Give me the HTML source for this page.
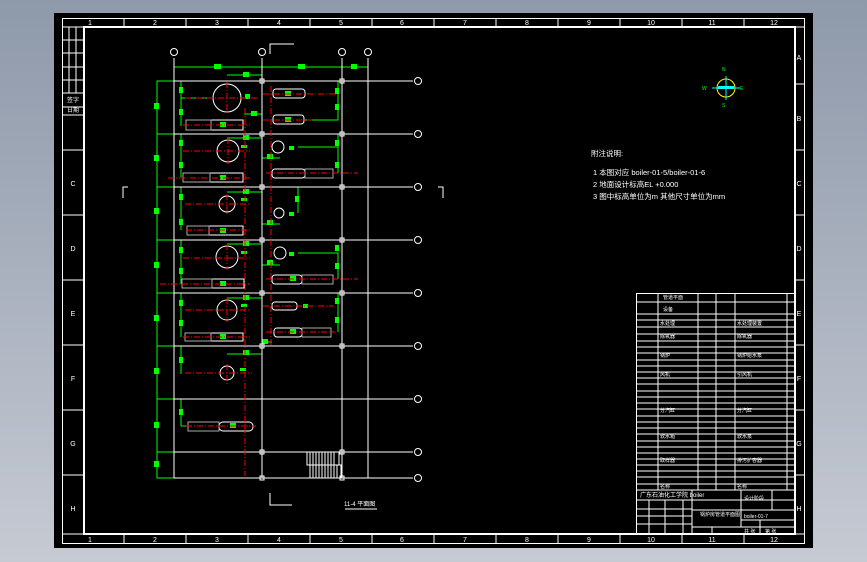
<!DOCTYPE html>
<html><head><meta charset="utf-8"><style>
html,body{margin:0;padding:0;width:867px;height:562px;overflow:hidden;background:linear-gradient(#8e99aa,#c6cad3);}
svg{display:block}
</style></head><body>
<svg width="867" height="562" viewBox="0 0 867 562" xmlns="http://www.w3.org/2000/svg" font-family="Liberation Sans, Noto Sans CJK SC, sans-serif">
<rect x="54" y="13" width="759" height="535" fill="#000"/>
<!-- frames -->
<g fill="none" stroke="#fff">
<rect x="62.5" y="18.5" width="742" height="525" stroke-width="1"/>
<rect x="84" y="27" width="711" height="507" stroke-width="2"/>
<line x1="62" y1="27" x2="805" y2="27"/>
<line x1="62" y1="534" x2="805" y2="534"/>
<g stroke-width="1">
<line x1="124" y1="18" x2="124" y2="27"/><line x1="186" y1="18" x2="186" y2="27"/><line x1="248" y1="18" x2="248" y2="27"/><line x1="310" y1="18" x2="310" y2="27"/><line x1="372" y1="18" x2="372" y2="27"/><line x1="434" y1="18" x2="434" y2="27"/><line x1="496" y1="18" x2="496" y2="27"/><line x1="558" y1="18" x2="558" y2="27"/><line x1="620" y1="18" x2="620" y2="27"/><line x1="682" y1="18" x2="682" y2="27"/><line x1="744" y1="18" x2="744" y2="27"/>
<line x1="124" y1="534" x2="124" y2="543"/><line x1="186" y1="534" x2="186" y2="543"/><line x1="248" y1="534" x2="248" y2="543"/><line x1="310" y1="534" x2="310" y2="543"/><line x1="372" y1="534" x2="372" y2="543"/><line x1="434" y1="534" x2="434" y2="543"/><line x1="496" y1="534" x2="496" y2="543"/><line x1="558" y1="534" x2="558" y2="543"/><line x1="620" y1="534" x2="620" y2="543"/><line x1="682" y1="534" x2="682" y2="543"/><line x1="744" y1="534" x2="744" y2="543"/>
<line x1="795" y1="84" x2="805" y2="84"/><line x1="795" y1="150" x2="805" y2="150"/><line x1="795" y1="215" x2="805" y2="215"/><line x1="795" y1="280" x2="805" y2="280"/><line x1="795" y1="345" x2="805" y2="345"/><line x1="795" y1="410" x2="805" y2="410"/><line x1="795" y1="475" x2="805" y2="475"/>
<line x1="62" y1="150" x2="84" y2="150"/><line x1="62" y1="215" x2="84" y2="215"/><line x1="62" y1="280" x2="84" y2="280"/><line x1="62" y1="345" x2="84" y2="345"/><line x1="62" y1="410" x2="84" y2="410"/><line x1="62" y1="475" x2="84" y2="475"/>
<!-- top-left little table -->
<line x1="62" y1="40" x2="84" y2="40"/><line x1="62" y1="53" x2="84" y2="53"/><line x1="62" y1="67" x2="84" y2="67"/><line x1="62" y1="80" x2="84" y2="80"/><line x1="62" y1="93" x2="84" y2="93"/><line x1="62" y1="107" x2="84" y2="107"/><line x1="62" y1="115" x2="84" y2="115"/>
<line x1="69" y1="27" x2="69" y2="93"/><line x1="76" y1="27" x2="76" y2="93"/>
</g>
</g>
<g fill="#fff" font-size="7" text-anchor="middle">
<text x="90" y="25">1</text><text x="155" y="25">2</text><text x="217" y="25">3</text><text x="279" y="25">4</text><text x="341" y="25">5</text><text x="402" y="25">6</text><text x="465" y="25">7</text><text x="527" y="25">8</text><text x="589" y="25">9</text><text x="651" y="25">10</text><text x="712" y="25">11</text><text x="774" y="25">12</text>
<text x="90" y="542">1</text><text x="155" y="542">2</text><text x="217" y="542">3</text><text x="279" y="542">4</text><text x="341" y="542">5</text><text x="402" y="542">6</text><text x="465" y="542">7</text><text x="527" y="542">8</text><text x="589" y="542">9</text><text x="651" y="542">10</text><text x="712" y="542">11</text><text x="774" y="542">12</text>
<text x="799" y="60">A</text><text x="799" y="121">B</text><text x="799" y="186">C</text><text x="799" y="251">D</text><text x="799" y="316">E</text><text x="799" y="381">F</text><text x="799" y="446">G</text><text x="799" y="511">H</text>
<text x="73" y="186">C</text><text x="73" y="251">D</text><text x="73" y="316">E</text><text x="73" y="381">F</text><text x="73" y="446">G</text><text x="73" y="511">H</text>
<text x="73" y="102" font-size="6">签字</text><text x="73" y="112" font-size="6">日期</text>
</g>
<!-- green outer dims -->
<g stroke="#0f0" fill="none" stroke-width="1">
<polyline points="174,81 157,81 157,478 174,478"/>
<line x1="157" y1="134" x2="174" y2="134"/><line x1="157" y1="187" x2="174" y2="187"/><line x1="157" y1="240" x2="174" y2="240"/><line x1="157" y1="293" x2="174" y2="293"/><line x1="157" y1="346" x2="174" y2="346"/><line x1="157" y1="399" x2="174" y2="399"/><line x1="157" y1="452" x2="174" y2="452"/>
<line x1="174" y1="67" x2="368" y2="67"/>
<line x1="181" y1="81" x2="181" y2="98"/><line x1="181" y1="98" x2="208" y2="98"/><line x1="181" y1="81" x2="181" y2="126"/>
<line x1="181" y1="134" x2="181" y2="177"/><line x1="181" y1="187" x2="181" y2="230"/><line x1="181" y1="240" x2="181" y2="284"/><line x1="181" y1="293" x2="181" y2="337"/><line x1="181" y1="346" x2="181" y2="374"/><line x1="181" y1="399" x2="181" y2="426"/><line x1="181" y1="426" x2="190" y2="426"/>
<polyline points="227,75 262,75"/><polyline points="244,114 262,114"/><polyline points="227,138 262,138"/><polyline points="227,192 262,192"/><polyline points="227,244 262,244"/><polyline points="227,298 262,298"/><polyline points="227,354 262,354 262,362"/>
<polyline points="338,81 338,120 305,120"/><polyline points="338,134 338,173"/><polyline points="298,147 338,147"/><polyline points="298,213 298,187"/><polyline points="298,253 338,253 338,279"/><polyline points="338,293 338,332"/>
<polyline points="262,158 280,158"/><polyline points="262,224 280,224"/><polyline points="262,265 280,265"/><polyline points="262,342 272,342"/>
</g>
<g fill="#0f0" font-size="5">
<rect x="154" y="103" width="5" height="6"/><rect x="154" y="155" width="5" height="6"/><rect x="154" y="208" width="5" height="6"/><rect x="154" y="262" width="5" height="6"/><rect x="154" y="315" width="5" height="6"/><rect x="154" y="368" width="5" height="6"/><rect x="154" y="422" width="5" height="6"/><rect x="154" y="461" width="5" height="6"/>
<rect x="214" y="64" width="7" height="5"/><rect x="298" y="64" width="7" height="5"/><rect x="351" y="64" width="6" height="5"/>
<rect x="179" y="87" width="4" height="6"/><rect x="179" y="109" width="4" height="6"/><rect x="179" y="140" width="4" height="6"/><rect x="179" y="162" width="4" height="6"/><rect x="179" y="194" width="4" height="6"/><rect x="179" y="219" width="4" height="6"/><rect x="179" y="247" width="4" height="6"/><rect x="179" y="268" width="4" height="6"/><rect x="179" y="300" width="4" height="6"/><rect x="179" y="320" width="4" height="6"/><rect x="179" y="357" width="4" height="6"/><rect x="179" y="409" width="4" height="6"/>
<rect x="243" y="72" width="6" height="5"/><rect x="251" y="111" width="6" height="5"/><rect x="243" y="135" width="6" height="5"/><rect x="243" y="189" width="6" height="5"/><rect x="243" y="241" width="6" height="5"/><rect x="243" y="295" width="6" height="5"/><rect x="243" y="350" width="6" height="5"/>
<rect x="335" y="88" width="4" height="6"/><rect x="335" y="104" width="4" height="6"/><rect x="335" y="140" width="4" height="6"/><rect x="335" y="162" width="4" height="6"/><rect x="295" y="196" width="4" height="6"/><rect x="335" y="245" width="4" height="6"/><rect x="335" y="263" width="4" height="6"/><rect x="335" y="298" width="4" height="6"/><rect x="335" y="317" width="4" height="6"/>
<rect x="267" y="154" width="6" height="5"/><rect x="267" y="220" width="6" height="5"/><rect x="267" y="260" width="6" height="5"/><rect x="262" y="339" width="6" height="5"/>
<rect x="245" y="94" width="5" height="5"/><rect x="285" y="91" width="6" height="5"/><rect x="285" y="117" width="6" height="5"/><rect x="220" y="122" width="6" height="5"/><rect x="220" y="175" width="6" height="5"/><rect x="220" y="228" width="6" height="5"/><rect x="220" y="281" width="6" height="5"/><rect x="220" y="334" width="6" height="5"/><rect x="230" y="423" width="6" height="5"/>
<rect x="289" y="146" width="5" height="4"/><rect x="289" y="212" width="5" height="4"/><rect x="289" y="252" width="5" height="4"/><rect x="290" y="276" width="6" height="5"/><rect x="290" y="329" width="6" height="5"/><rect x="303" y="304" width="5" height="4"/>
<rect x="241" y="145" width="6" height="3"/><rect x="241" y="198" width="6" height="3"/><rect x="241" y="251" width="6" height="3"/><rect x="241" y="304" width="6" height="3"/><rect x="240" y="368" width="6" height="3"/>
</g>
<!-- white grid -->
<g stroke="#fff" fill="none" stroke-width="1">
<line x1="174" y1="58" x2="174" y2="478"/><line x1="262" y1="58" x2="262" y2="478"/><line x1="342" y1="58" x2="342" y2="478"/><line x1="368" y1="58" x2="368" y2="478"/>
<line x1="174" y1="81" x2="413" y2="81"/><line x1="174" y1="134" x2="413" y2="134"/><line x1="174" y1="187" x2="413" y2="187"/><line x1="174" y1="240" x2="413" y2="240"/><line x1="174" y1="293" x2="413" y2="293"/><line x1="174" y1="346" x2="413" y2="346"/><line x1="174" y1="399" x2="413" y2="399"/><line x1="174" y1="452" x2="413" y2="452"/><line x1="174" y1="478" x2="413" y2="478"/>
<circle cx="174" cy="52" r="3.5"/><circle cx="262" cy="52" r="3.5"/><circle cx="342" cy="52" r="3.5"/><circle cx="368" cy="52" r="3.5"/>
<circle cx="418" cy="81" r="3.5"/><circle cx="418" cy="134" r="3.5"/><circle cx="418" cy="187" r="3.5"/><circle cx="418" cy="240" r="3.5"/><circle cx="418" cy="293" r="3.5"/><circle cx="418" cy="346" r="3.5"/><circle cx="418" cy="399" r="3.5"/><circle cx="418" cy="452" r="3.5"/><circle cx="418" cy="478" r="3.5"/>
<g stroke-width="1"><rect x="260" y="79" width="4" height="4"/><rect x="340" y="79" width="4" height="4"/><rect x="260" y="132" width="4" height="4"/><rect x="340" y="132" width="4" height="4"/><rect x="260" y="185" width="4" height="4"/><rect x="340" y="185" width="4" height="4"/><rect x="260" y="238" width="4" height="4"/><rect x="340" y="238" width="4" height="4"/><rect x="260" y="291" width="4" height="4"/><rect x="340" y="291" width="4" height="4"/><rect x="260" y="344" width="4" height="4"/><rect x="340" y="344" width="4" height="4"/><rect x="260" y="450" width="4" height="4"/><rect x="340" y="450" width="4" height="4"/><rect x="260" y="476" width="4" height="4"/><rect x="340" y="476" width="4" height="4"/></g>
<polyline points="270,54 270,44 294,44"/><polyline points="270,493 270,505 292,505"/>
<polyline points="123,198 123,187 128,187" /><polyline points="443,198 443,187 438,187"/>
<!-- stairs -->
<rect x="307" y="452" width="32" height="13"/><rect x="310" y="465" width="31" height="13"/>
<path d="M310 452v13M313 452v13M316 452v13M319 452v13M322 452v13M325 452v13M328 452v13M331 452v13M334 452v13M313 465v13M316 465v13M319 465v13M322 465v13M325 465v13M328 465v13M331 465v13M334 465v13M337 465v13"/>
<line x1="345" y1="509" x2="377" y2="509"/>
<!-- vessels -->
<circle cx="227" cy="98" r="14"/><circle cx="228" cy="151" r="11"/><circle cx="227" cy="204" r="8"/><circle cx="227" cy="257" r="11"/><circle cx="227" cy="310" r="10"/><circle cx="227" cy="373" r="7"/>
<circle cx="278" cy="147" r="6"/><circle cx="279" cy="213" r="5"/><circle cx="280" cy="253" r="6"/>
<rect x="211" y="120" width="32" height="10"/><rect x="210" y="173" width="33" height="9"/><rect x="209" y="226" width="34" height="9"/><rect x="212" y="279" width="32" height="9"/><rect x="211" y="333" width="32" height="8"/>
<rect x="273" y="89" width="32" height="9" rx="3"/><rect x="273" y="115" width="31" height="9" rx="3"/><rect x="272" y="169" width="33" height="9" rx="3"/><rect x="272" y="275" width="30" height="9" rx="3"/><rect x="272" y="302" width="25" height="8" rx="3"/><rect x="274" y="328" width="28" height="9" rx="3"/>
<rect x="219" y="422" width="34" height="9" rx="4"/>
</g>
<g stroke="#aaa" fill="none"><rect x="186" y="120" width="25" height="10"/><rect x="183" y="173" width="27" height="9"/><rect x="187" y="226" width="22" height="9"/><rect x="182" y="279" width="30" height="9"/><rect x="185" y="333" width="26" height="8"/><rect x="188" y="422" width="31" height="9"/><rect x="305" y="169" width="28" height="9"/><rect x="302" y="275" width="31" height="9"/><rect x="302" y="328" width="29" height="9"/></g>
<!-- red centerlines -->
<g stroke="#f00" stroke-dasharray="6,2,1,2" fill="none">
<line x1="245" y1="108" x2="245" y2="476"/><line x1="271" y1="86" x2="271" y2="345"/>
<line x1="185" y1="98" x2="258" y2="98"/><line x1="183" y1="151" x2="250" y2="151"/><line x1="185" y1="204" x2="250" y2="204"/><line x1="183" y1="258" x2="250" y2="258"/><line x1="185" y1="310" x2="250" y2="310"/><line x1="185" y1="373" x2="252" y2="373"/>
<line x1="227" y1="82" x2="227" y2="113"/><line x1="228" y1="138" x2="228" y2="164"/><line x1="227" y1="194" x2="227" y2="214"/><line x1="227" y1="244" x2="227" y2="270"/><line x1="227" y1="298" x2="227" y2="322"/><line x1="227" y1="364" x2="227" y2="384"/>
<line x1="183" y1="125" x2="250" y2="125"/><line x1="168" y1="178" x2="250" y2="178"/><line x1="186" y1="230" x2="250" y2="230"/><line x1="160" y1="284" x2="250" y2="284"/><line x1="183" y1="337" x2="250" y2="337"/><line x1="186" y1="426" x2="256" y2="426"/>
<line x1="263" y1="94" x2="335" y2="94"/><line x1="263" y1="120" x2="312" y2="120"/><line x1="266" y1="173" x2="358" y2="173"/><line x1="266" y1="279" x2="358" y2="279"/><line x1="263" y1="306" x2="333" y2="306"/><line x1="266" y1="332" x2="335" y2="332"/>
</g>
<!-- compass -->
<circle cx="726" cy="88" r="9" fill="none" stroke="#ff0"/>
<line x1="712" y1="88" x2="740" y2="88" stroke="#0ff"/><line x1="726" y1="76" x2="726" y2="100" stroke="#0ff"/>
<rect x="718" y="86" width="16" height="3" fill="#0ff"/>
<g fill="#0f0" font-size="5"><text x="722" y="71">N</text><text x="702" y="90">W</text><text x="740" y="90">E</text><text x="722" y="107">S</text></g>
<!-- notes -->
<g fill="#fff" font-size="7.5">
<text x="591" y="156">附注说明:</text>
<text x="593" y="175">1  本图对应 boiler-01-5/boiler-01-6</text>
<text x="593" y="187">2  地面设计标高EL +0.000</text>
<text x="593" y="199">3  图中标高单位为m  其他尺寸单位为mm</text>
<text x="344" y="506" font-size="6">11-4 平面图</text>
</g>
<!-- title block -->
<g stroke="#fff" fill="none" stroke-width="1">
<rect x="636.5" y="293.5" width="159" height="241"/>
<path d="M637 302H795M637 314H795M637 320H795M637 327H795M637 334H795M637 341H795M637 347H795M637 353H795M637 360H795M637 366H795M637 372H795M637 378H795M637 384H795M637 391H795M637 397H795M637 403H795M637 409H795M637 416H795M637 422H795M637 428H795M637 434H795M637 441H795M637 447H795M637 453H795M637 459H795M637 465H795M637 471H795M637 477H795M637 484H795M637 490H795"/>
<path d="M658 293V490M698 293V490M716 293V490M735 293V490M787 293V490"/>
<path d="M637 500H795M637 509H692M637 516H692M637 524H692M692 510H795M741 520H795M692 527H795"/>
<path d="M649 500V534M665 500V534M683 500V534M692 490V534M741 490V527M772 490V510M760 520V534M712 527V534"/>
</g>
<g fill="#fff" font-size="5">
<text x="663" y="299">管道平面</text><text x="663" y="311">设备</text>
<text x="660" y="325">水处理</text><text x="737" y="325">水处理装置</text>
<text x="660" y="338">除氧器</text><text x="737" y="338">除氧器</text>
<text x="660" y="357">锅炉</text><text x="737" y="357">锅炉给水泵</text>
<text x="660" y="376">风机</text><text x="737" y="376">引风机</text>
<text x="660" y="412">分汽缸</text><text x="737" y="412">分汽缸</text>
<text x="660" y="438">软水箱</text><text x="737" y="438">软水泵</text>
<text x="660" y="462">取样器</text><text x="737" y="462">排污扩容器</text>
<text x="660" y="488">名称</text><text x="737" y="488">名称</text>
<text x="640" y="497" font-size="6">广东石油化工学院 boiler</text>
<text x="700" y="516">锅炉房管道平面图</text>
<text x="744" y="500">设计阶段</text><text x="744" y="518">boiler-01-7</text>
<text x="744" y="533">共 张</text><text x="765" y="533">第 张</text>
</g>
</svg>
</body></html>
